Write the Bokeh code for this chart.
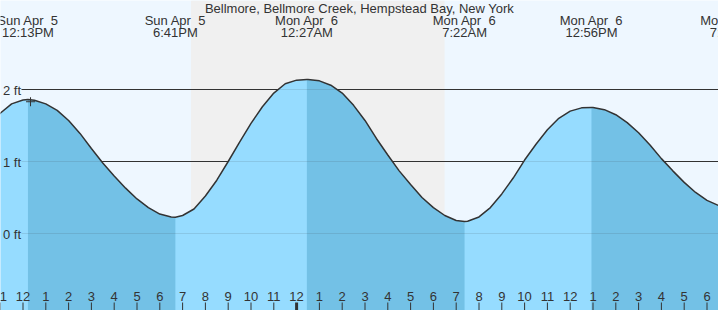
from bokeh.plotting import figure
from bokeh.models import ColumnDataSource, Range1d, LabelSet, BoxAnnotation
from bokeh.core.properties import value
from bokeh.embed import file_html
from bokeh.resources import INLINE

# ---------------- data (hours counted from Sun Apr 5, 00:00) ----------------
station = "Bellmore, Bellmore Creek, Hempstead Bay, New York"

extreme_hours = [12.217, 18.683, 24.45, 31.367, 36.933, 43.1]
extreme_heights = [1.86, 0.226, 2.14, 0.167, 1.75, 0.36]
extreme_kind = ["high", "low", "high", "low", "high", "low"]
# second space is a no-break space so the double gap survives in SVG
extreme_dates = ["Sun Apr \u00a05", "Sun Apr \u00a05", "Mon Apr \u00a06",
                 "Mon Apr \u00a06", "Mon Apr \u00a06", "Mon Apr \u00a06"]
extreme_clock = ["12:13PM", "6:41PM", "12:27AM", "7:22AM", "12:56PM", "7:06PM"]

curve_hours = [10.5, 11.0, 11.5, 12.0, 12.217,
               12.5, 13.0, 13.5, 14.0, 14.5, 15.0, 15.5, 16.0, 16.5, 17.0, 17.5, 18.0, 18.5, 18.683,
               19.0, 19.5, 20.0, 20.5, 21.0, 21.5, 22.0, 22.5, 23.0, 23.5, 24.0, 24.45,
               24.5, 25.0, 25.5, 26.0, 26.5, 27.0, 27.5, 28.0, 28.5, 29.0, 29.5, 30.0, 30.5, 31.0, 31.367,
               31.5, 32.0, 32.5, 33.0, 33.5, 34.0, 34.5, 35.0, 35.5, 36.0, 36.5, 36.933,
               37.0, 37.5, 38.0, 38.5, 39.0, 39.5, 40.0, 40.5, 41.0, 41.5, 42.0, 42.5, 43.0]
curve_heights = [1.53, 1.67, 1.80, 1.855, 1.86,
                 1.85, 1.80, 1.71, 1.57, 1.39, 1.18, 0.98, 0.80, 0.63, 0.48, 0.36, 0.27, 0.23, 0.226,
                 0.25, 0.34, 0.52, 0.74, 1.00, 1.27, 1.53, 1.76, 1.95, 2.08, 2.13, 2.14,
                 2.14, 2.12, 2.06, 1.95, 1.78, 1.57, 1.32, 1.09, 0.87, 0.68, 0.50, 0.36, 0.25, 0.18, 0.167,
                 0.17, 0.23, 0.36, 0.55, 0.77, 1.02, 1.24, 1.44, 1.60, 1.70, 1.745, 1.75,
                 1.75, 1.72, 1.65, 1.54, 1.40, 1.23, 1.04, 0.87, 0.71, 0.57, 0.46, 0.39, 0.36]

sunset_hour = 19.37
sunrise_hour = 30.49

now_hour = 12.33
now_height = 1.83

tick_hours = list(range(11, 43))
tick_labels = ["11", "12", "1", "2", "3", "4", "5", "6", "7", "8", "9", "10", "11",
               "12", "1", "2", "3", "4", "5", "6", "7", "8", "9", "10", "11",
               "12", "1", "2", "3", "4", "5", "6"]

level_values = [0, 1, 2]
level_labels = ["0 ft", "1 ft", "2 ft"]

# ---------------- layout ----------------
W, H = 718, 310
px_per_hour = 22.8
noon_px = 22.5
px_per_ft = 72.0
zero_px = 233.0

x_start = 12 - noon_px / px_per_hour
x_end = x_start + W / px_per_hour
y_top = zero_px / px_per_ft
y_bottom = -(H - zero_px) / px_per_ft


def fy(px):
    return y_top - px / px_per_ft


DAY = "#eef7ff"
NIGHT = "#f0f0f0"
LIGHT = "#96dcff"
DARK = "#73c1e6"
INK = "#333333"
FONT = value("Liberation Sans")

p = figure(width=W, height=H, output_backend="svg", toolbar_location=None,
           x_range=Range1d(x_start, x_end), y_range=Range1d(y_bottom, y_top),
           x_axis_location=None, y_axis_location=None, min_border=0,
           background_fill_color=DAY, border_fill_color=DAY, outline_line_color=None)
p.xgrid.grid_line_color = None
p.ygrid.grid_line_color = None

p.add_layout(BoxAnnotation(left=sunset_hour, right=sunrise_hour, fill_color=NIGHT,
                           fill_alpha=1.0, line_color=None, level="underlay"))

grid_x0 = x_start + 21 / px_per_hour
grid_src = ColumnDataSource(dict(x0=[grid_x0] * len(level_values), x1=[x_end] * len(level_values),
                                 y=level_values))
p.segment(x0="x0", y0="y", x1="x1", y1="y", source=grid_src, line_color=INK, line_width=1)

curve_src = ColumnDataSource(dict(x=curve_hours, y=curve_heights))
p.varea(x="x", y1=y_bottom - 1, y2="y", source=curve_src, fill_color=LIGHT)

for i, kind in enumerate(extreme_kind):
    if kind != "high":
        continue
    t0 = extreme_hours[i]
    t1 = extreme_hours[i + 1] if i + 1 < len(extreme_hours) else x_end + 1
    xs = [t for t in curve_hours if t0 <= t <= t1]
    ys = [h for t, h in zip(curve_hours, curve_heights) if t0 <= t <= t1]
    p.varea(x=xs, y1=y_bottom - 1, y2=ys, fill_color=DARK)

p.segment(x0="x0", y0="y", x1="x1", y1="y", source=grid_src, line_color=INK,
          line_alpha=0.12, line_width=1)

p.line(x="x", y="y", source=curve_src, line_color=INK, line_width=1.5)

p.scatter(x=[now_hour], y=[now_height], marker="cross", size=9, line_color=INK, line_width=1)

# hour ticks
tick_src = ColumnDataSource(dict(x=tick_hours, y0=[y_bottom] * len(tick_hours),
                                 y1=[fy(302)] * len(tick_hours),
                                 w=[3 if h % 24 == 0 else 1 for h in tick_hours],
                                 ty=[fy(295.5)] * len(tick_hours), label=tick_labels))
p.segment(x0="x", y0="y0", x1="x", y1="y1", source=tick_src, line_color=INK, line_width="w")
p.add_layout(LabelSet(x="x", y="ty", text="label", source=tick_src, text_font=FONT,
                      text_font_size="13px", text_color=INK, text_align="center",
                      text_baseline="middle"))

# level labels
lvl_src = ColumnDataSource(dict(x=[x_start] * len(level_values), y=level_values, label=level_labels))
p.add_layout(LabelSet(x="x", y="y", text="label", source=lvl_src, x_offset=2.5, y_offset=-0.5,
                      text_font=FONT, text_font_size="13px", text_color=INK,
                      text_align="left", text_baseline="middle"))

# tide labels
ext_src = ColumnDataSource(dict(x=extreme_hours, d=extreme_dates, c=extreme_clock,
                                yd=[fy(19.5)] * len(extreme_hours),
                                yc=[fy(31.5)] * len(extreme_hours)))
p.add_layout(LabelSet(x="x", y="yd", text="d", source=ext_src, text_font=FONT,
                      text_font_size="13px", text_color=INK, text_align="center",
                      text_baseline="middle"))
p.add_layout(LabelSet(x="x", y="yc", text="c", source=ext_src, text_font=FONT,
                      text_font_size="13px", text_color=INK, text_align="center",
                      text_baseline="middle"))

title_src = ColumnDataSource(dict(x=[(x_start + x_end) / 2], y=[fy(7.5)], t=[station]))
p.add_layout(LabelSet(x="x", y="y", text="t", source=title_src, text_font=FONT,
                      text_font_size="13px", text_color=INK, text_align="center",
                      text_baseline="middle"))

open("out.html", "w").write(file_html(p, INLINE))
